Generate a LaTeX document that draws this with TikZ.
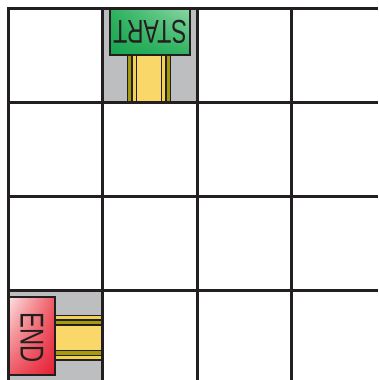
\documentclass[tikz,border=0pt]{standalone}
\usepackage{fontspec}
\setmainfont{Liberation Sans}
\usetikzlibrary{shadings}
\definecolor{gridline}{RGB}{35,31,32}
\definecolor{cellgray}{RGB}{188,190,192}
\definecolor{pathyellow}{RGB}{250,215,105}
\definecolor{pathlight}{RGB}{242,210,85}
\definecolor{patholive}{RGB}{165,155,10}
\definecolor{startdark}{RGB}{25,165,80}
\definecolor{startmid}{RGB}{45,178,95}
\definecolor{startlight}{RGB}{140,215,165}
\definecolor{endred}{RGB}{230,30,52}
\definecolor{endmid}{RGB}{238,90,100}
\definecolor{endlight}{RGB}{252,228,228}

\begin{document}
\begin{tikzpicture}[
    x=1pt, y=-1pt,
    grid/.style={draw=gridline, line width=3pt},
    cell/.style={fill=cellgray},
    stripe/.style={draw=gridline, line width=1.2pt},
    tilebox/.style={draw=gridline, line width=1.2pt},
    tiletext/.style={font=\fontsize{33}{36}\selectfont, text=gridline, inner sep=0pt}
]
    \useasboundingbox (0,0) rectangle (378,380);

    % Grey cells
    \fill[cell] (102,8) rectangle (197,102);
    \fill[cell] (8,290) rectangle (102,380);

    % Tracks
    \filldraw[stripe, fill=patholive] (127.5,55) rectangle (170.5,102);
    \filldraw[stripe, fill=pathlight] (132,55) rectangle (166,102);
    \filldraw[stripe, fill=pathyellow] (136.5,55) rectangle (161.5,102);

    \filldraw[stripe, fill=pathlight] (55,315.5) rectangle (102,360);
    \filldraw[stripe, fill=patholive] (55,320) rectangle (102,355.5);
    \filldraw[stripe, fill=pathyellow] (55,325) rectangle (102,350.5);

    % Start and end tiles
    \shadedraw[tilebox, upper right=startlight, upper left=startmid, lower left=startdark, lower right=startmid] (110,8) rectangle (190,55);
    \node (starttext) [tiletext, rotate=180, xscale=0.7] at (150,31.5) {START};

    \shadedraw[tilebox, upper left=endlight, upper right=endmid, lower left=endmid, lower right=endred] (8,297) rectangle (55,375);
    \node (endtext) [tiletext, rotate=-90, xscale=0.72] at (32,338) {END};

    % Grid
    \foreach \x in {102.5,197,291}
        \draw[grid] (\x,8) -- (\x,380);
    \foreach \y in {102,196,290}
        \draw[grid] (8,\y) -- (378,\y);
    \draw[grid] (378,8) -- (8,8) -- (8,380);
\end{tikzpicture}
\end{document}
